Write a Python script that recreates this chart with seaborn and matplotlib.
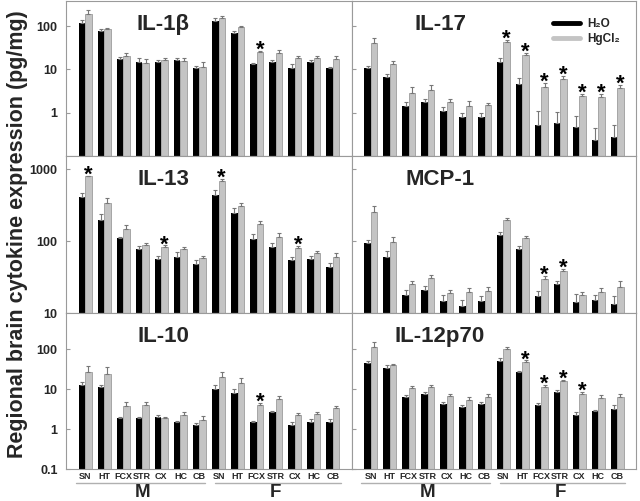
import numpy as np
import pandas as pd
import matplotlib
matplotlib.use("Agg")
import matplotlib.pyplot as plt
import matplotlib.ticker as mticker
from matplotlib.lines import Line2D
import seaborn as sns

# ---------------- data ----------------
regions = ["SN", "HT", "FCX", "STR", "CX", "HC", "CB"]
sexes = ["M", "F"]
treatments = ["H2O", "HgCl2"]
legend_labels = ["H\u2082O", "HgCl\u2082"]

il1b_h2o = [120, 76, 17, 15, 14.6, 16.5, 11, 133, 68, 13, 15, 10.6, 14.6, 10.6]
il1b_hg = [190, 84, 20.5, 14, 16.5, 16, 11.5, 158, 93, 25, 23.5, 18, 18.6, 17.4]
il1b_h2o_err = [20, 8, 2, 3, 2, 2, 1, 25, 10, 1, 1.5, 2.5, 1.5, 1]
il1b_hg_err = [45, 6, 4, 3, 1.5, 2, 3, 15, 5, 2, 5, 2, 1.5, 3]
il1b_sig = [9]  # F FCX

il17_h2o = [11, 6.6, 1.43, 1.77, 1.12, 0.81, 0.81, 15, 4.5, 0.52, 0.59, 0.48, 0.24, 0.27]
il17_hg = [40, 13.3, 2.9, 3.3, 1.74, 1.43, 1.47, 44, 21.5, 4.0, 6.0, 2.43, 2.27, 3.7]
il17_h2o_err = [1.2, 1.2, 0.3, 0.3, 0.25, 0.15, 0.15, 3, 1.8, 0.6, 0.45, 0.35, 0.2, 0.25]
il17_hg_err = [12, 2.5, 1.1, 1.0, 0.3, 0.45, 0.25, 5, 3, 0.9, 1.0, 0.3, 0.4, 0.6]
il17_sig = [7, 8, 9, 10, 11, 12, 13]

il13_h2o = [407, 200, 110, 77, 56, 61, 48, 442, 243, 106, 84, 54, 56, 44]
il13_hg = [805, 336, 146, 87, 82, 77, 58, 694, 308, 171, 115, 79, 69, 60]
il13_h2o_err = [55, 40, 5, 8, 6, 10, 7, 70, 45, 20, 10, 7, 7, 5]
il13_hg_err = [5, 60, 20, 8, 5, 5, 5, 50, 30, 20, 15, 6, 5, 8]
il13_sig = [0, 4, 7, 11]

mcp1_h2o = [95, 60, 18, 21, 14.6, 12.4, 14.6, 120, 77, 17.3, 25, 14.2, 15.2, 13.5]
mcp1_hg = [255, 96, 25, 31, 18.8, 19.3, 20, 196, 109, 29.5, 38, 17.8, 19.4, 23]
mcp1_h2o_err = [8, 12, 3, 3, 3, 3, 2.5, 12, 8, 3, 3, 4, 2.5, 4]
mcp1_hg_err = [55, 20, 3, 3, 2, 3, 3, 15, 8, 3, 3, 2, 3, 5]
mcp1_sig = [9, 10]

il10_h2o = [12.3, 11, 1.88, 1.84, 1.95, 1.46, 1.28, 10, 7.8, 1.52, 2.6, 1.23, 1.5, 1.5]
il10_hg = [27, 24, 3.8, 4.0, 1.88, 2.3, 1.7, 19.5, 14.4, 4.1, 5.6, 2.3, 2.4, 3.35]
il10_h2o_err = [2.5, 1.5, 0.1, 0.15, 0.3, 0.15, 0.1, 3, 2.5, 0.1, 0.3, 0.25, 0.25, 0.3]
il10_hg_err = [10, 12, 0.9, 0.7, 0.15, 0.3, 0.4, 7, 4, 0.5, 1.0, 0.2, 0.3, 0.5]
il10_sig = [9]

il12_h2o = [44.7, 33.5, 6.3, 7.5, 4.2, 3.55, 4.2, 51, 26, 4.0, 8.4, 2.24, 2.75, 3.16]
il12_hg = [116, 40, 10.6, 11, 6.9, 5.4, 6.2, 100, 47, 11.2, 15.8, 7.5, 6.0, 6.5]
il12_h2o_err = [5, 7, 1, 0.8, 0.6, 0.5, 0.5, 10, 2, 0.4, 1, 0.5, 0.3, 0.8]
il12_hg_err = [35, 3, 1.2, 2, 0.5, 1.0, 1.2, 15, 5, 1.5, 1.2, 0.8, 1.2, 1.2]
il12_sig = [8, 9, 10, 11]

panel_titles = ["IL-1\u03b2", "IL-17", "IL-13", "MCP-1", "IL-10", "IL-12p70"]
row_ylims = [(0.1, 380), (10, 1530), (0.1, 800)]
row_yticks = [[1, 10, 100], [10, 100, 1000], [0.1, 1, 10, 100]]
ylabel = "Regional brain cytokine expression (pg/mg)"

panels = [
    (il1b_h2o, il1b_hg, il1b_h2o_err, il1b_hg_err, il1b_sig),
    (il17_h2o, il17_hg, il17_h2o_err, il17_hg_err, il17_sig),
    (il13_h2o, il13_hg, il13_h2o_err, il13_hg_err, il13_sig),
    (mcp1_h2o, mcp1_hg, mcp1_h2o_err, mcp1_hg_err, mcp1_sig),
    (il10_h2o, il10_hg, il10_h2o_err, il10_hg_err, il10_sig),
    (il12_h2o, il12_hg, il12_h2o_err, il12_hg_err, il12_sig),
]

# ---------------- style ----------------
sns.set_style("white")
plt.rcParams["font.family"] = ["Liberation Sans", "DejaVu Sans"]
plt.rcParams["font.weight"] = "bold"

W, H = 640, 501
fig = plt.figure(figsize=(W / 100, H / 100), dpi=100)

col_px = [(66, 352), (352, 636)]
row_px = [(1, 156), (156, 313), (313, 469)]

group_keys = [f"{r}_{s}" for s in sexes for r in regions]
tick_labels = [r for s in sexes for r in regions]
spine_col = "#9a9a9a"
palette = {"H2O": "#000000", "HgCl2": "#c4c4c4"}

for i, (h2o, hg, h2o_err, hg_err, sig) in enumerate(panels):
    row, col = divmod(i, 2)
    x0, x1 = col_px[col]
    y0, y1 = row_px[row]
    ax = fig.add_axes([x0 / W, 1 - y1 / H, (x1 - x0) / W, (y1 - y0) / H])

    df = pd.DataFrame({
        "group": group_keys * 2,
        "treatment": [treatments[0]] * 14 + [treatments[1]] * 14,
        "value": list(h2o) + list(hg),
    })
    sns.barplot(data=df, x="group", y="value", hue="treatment", order=group_keys,
                hue_order=treatments, palette=palette, width=0.68, errorbar=None,
                legend=False, ax=ax, saturation=1, edgecolor="none", linewidth=0)
    bars = list(ax.patches)
    for p in bars[14:]:
        p.set_edgecolor("#9c9c9c")
        p.set_linewidth(0.6)
    ax.set_yscale("log", nonpositive="clip")

    errs = list(h2o_err) + list(hg_err)
    xs = [p.get_x() + p.get_width() / 2 for p in bars]
    hs = [p.get_height() for p in bars]
    ax.errorbar(xs, hs, yerr=[np.zeros(len(errs)), errs], fmt="none",
                ecolor="#777777", elinewidth=0.8, capsize=1.5, capthick=0.8, zorder=3)

    for k in sig:
        j = 14 + k
        ax.annotate("*", xy=(xs[j], hs[j] + errs[j]), xytext=(0, -3.5),
                    textcoords="offset points", ha="center", va="baseline",
                    fontsize=16, fontweight="bold", color="black")

    ax.set_xlim(-1, 14)
    ax.set_ylim(*row_ylims[row])
    ax.yaxis.set_major_locator(mticker.FixedLocator(row_yticks[row]))
    ax.yaxis.set_minor_locator(mticker.NullLocator())
    ax.yaxis.set_major_formatter(mticker.FuncFormatter(lambda v, p: f"{v:g}"))
    ax.set_xlabel("")
    ax.set_ylabel("")
    for s in ax.spines.values():
        s.set_color(spine_col)
        s.set_linewidth(0.8)
    ax.tick_params(axis="y", direction="in", length=3, color=spine_col,
                   labelsize=9, pad=6, left=True)
    if col == 1:
        ax.tick_params(axis="y", labelleft=False)
    else:
        for t in ax.get_yticklabels():
            t.set_fontweight("bold")

    if row == 2:
        ax.set_xticks(range(14))
        ax.set_xticklabels(tick_labels, fontsize=6.5, fontweight="bold")
        ax.tick_params(axis="x", length=0, pad=2)
        tr = ax.get_xaxis_transform()
        for (a, b), s, c in zip([(-0.5, 6.3), (6.8, 13.4)], sexes, [3, 10]):
            ax.add_line(Line2D([a, b], [-0.09, -0.09], transform=tr, color="#b0b0b0",
                               lw=1.0, clip_on=False))
            ax.text(c, -0.15, s, transform=tr, ha="center", va="center",
                    fontsize=13.5, fontweight="bold")
    else:
        ax.set_xticks([])

    tx = 0.34 if col == 0 else 0.31
    ax.text(tx, 0.85, panel_titles[i], transform=ax.transAxes, ha="center",
            va="center", fontsize=16, fontweight="bold")

    if i == 1:
        handles = [Line2D([0], [0], color=palette[t], lw=3.5) for t in treatments]
        ax.legend(handles, legend_labels, loc="upper right",
                  bbox_to_anchor=(0.98, 0.96), frameon=False,
                  handlelength=2.3, handletextpad=0.6, labelspacing=0.25,
                  prop={"weight": "bold", "size": 8.5})

fig.text(18 / W, 1 - 234 / H, ylabel, rotation=90, ha="center", va="center",
         fontsize=15.5, fontweight="bold")

fig.savefig("out.png", dpi=100)
